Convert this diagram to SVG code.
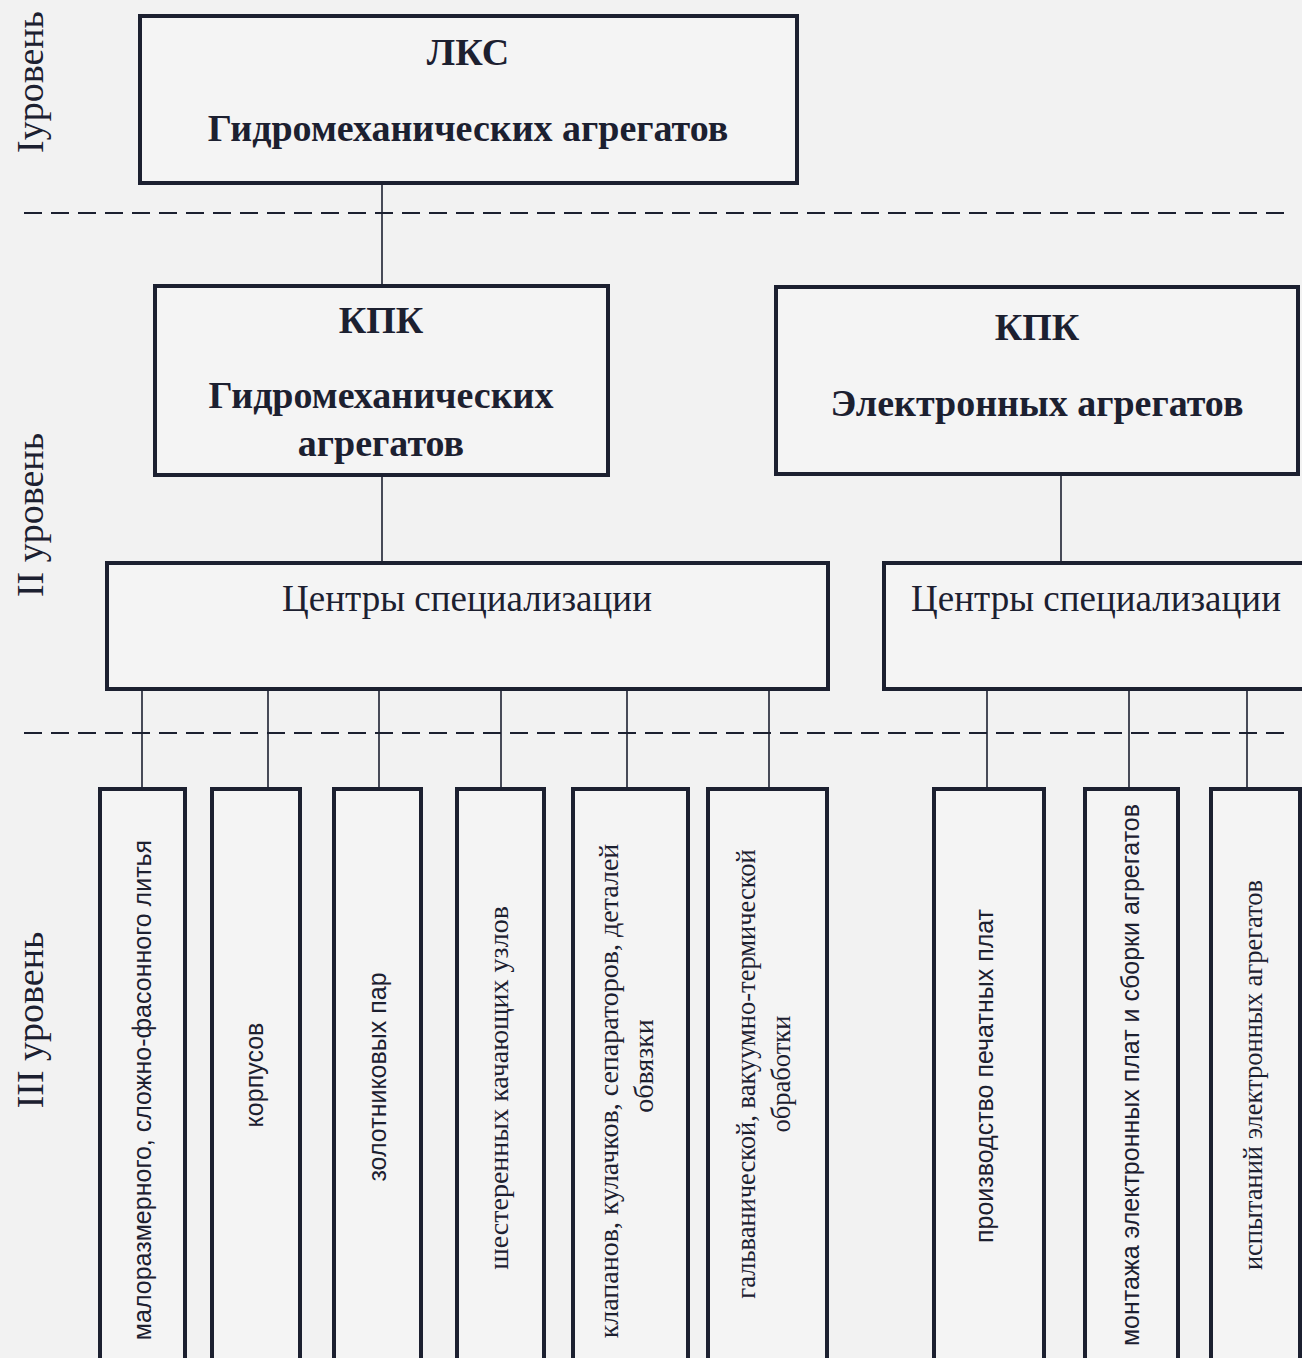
<svg xmlns="http://www.w3.org/2000/svg" width="1302" height="1358" viewBox="0 0 1302 1358">
<style>
.bg{fill:#f2f2f2}
.box{fill:#f4f4f4;stroke:#1c2030;stroke-width:4}
.con{stroke:#1c2030;stroke-width:1.6;fill:none}
.dash{stroke:#1c2030;stroke-width:2;stroke-dasharray:18 9;fill:none}
.tb{font-family:"Liberation Serif","Times New Roman",serif;font-weight:bold;font-size:38px;fill:#1c2030;text-anchor:middle}
.tr{font-family:"Liberation Serif","Times New Roman",serif;font-size:37px;fill:#1c2030;text-anchor:middle}
.lv{font-family:"Liberation Serif","Times New Roman",serif;font-size:38px;fill:#1c2030;text-anchor:middle}
.vs{font-family:"Liberation Sans",Arial,sans-serif;font-size:25px;fill:#1c2030;text-anchor:middle}
.vr{font-family:"Liberation Serif","Times New Roman",serif;font-size:28px;fill:#1c2030;text-anchor:middle}
.vr2{font-family:"Liberation Serif","Times New Roman",serif;font-size:26.5px;fill:#1c2030;text-anchor:middle}
</style>
<rect class="bg" x="0" y="0" width="1302" height="1358"/>
<g id="levels">
<text class="lv" transform="translate(43,82) rotate(-90)">Iуровень</text>
<text class="lv" transform="translate(43,515) rotate(-90)">II уровень</text>
<text class="lv" transform="translate(43,1020) rotate(-90)">III уровень</text>
</g>
<g id="connectors">
<line class="dash" x1="24" y1="213" x2="1292" y2="213"/>
<line class="dash" x1="24" y1="733" x2="1292" y2="733"/>
<line class="con" x1="382" y1="183" x2="382" y2="285"/>
<line class="con" x1="382" y1="475" x2="382" y2="563"/>
<line class="con" x1="1061" y1="474" x2="1061" y2="563"/>
<line class="con" x1="142" y1="689" x2="142" y2="789"/>
<line class="con" x1="268" y1="689" x2="268" y2="789"/>
<line class="con" x1="379" y1="689" x2="379" y2="789"/>
<line class="con" x1="501" y1="689" x2="501" y2="789"/>
<line class="con" x1="627" y1="689" x2="627" y2="789"/>
<line class="con" x1="769" y1="689" x2="769" y2="789"/>
<line class="con" x1="987" y1="689" x2="987" y2="789"/>
<line class="con" x1="1129" y1="689" x2="1129" y2="789"/>
<line class="con" x1="1247" y1="689" x2="1247" y2="789"/>
</g>
<g id="lks">
<rect class="box" x="140" y="16" width="657" height="167"/>
<text class="tb" x="468" y="65">ЛКС</text>
<text class="tb" x="468" y="141">Гидромеханических агрегатов</text>
</g>
<g id="kpk-hydro">
<rect class="box" x="155" y="286" width="453" height="189"/>
<text class="tb" x="381" y="333">КПК</text>
<text class="tb" x="381" y="408">Гидромеханических</text>
<text class="tb" x="381" y="456">агрегатов</text>
</g>
<g id="kpk-electro">
<rect class="box" x="776" y="287" width="522" height="187"/>
<text class="tb" x="1037" y="340">КПК</text>
<text class="tb" x="1037" y="416">Электронных агрегатов</text>
</g>
<g id="centers-hydro">
<rect class="box" x="107" y="563" width="721" height="126"/>
<text class="tr" x="467" y="611">Центры специализации</text>
</g>
<g id="centers-electro">
<rect class="box" x="884" y="563" width="430" height="126"/>
<text class="tr" x="1096" y="611">Центры специализации</text>
</g>
<g id="c1">
<rect class="box" x="100" y="789" width="85" height="590"/>
<text class="vs" transform="translate(151,1090) rotate(-90)">малоразмерного, сложно-фасонного литья</text>
</g>
<g id="c2">
<rect class="box" x="212" y="789" width="88" height="590"/>
<text class="vs" transform="translate(263,1075) rotate(-90)">корпусов</text>
</g>
<g id="c3">
<rect class="box" x="334" y="789" width="87" height="590"/>
<text class="vs" transform="translate(386,1077) rotate(-90)">золотниковых пар</text>
</g>
<g id="c4">
<rect class="box" x="457" y="789" width="87" height="590"/>
<text class="vr" transform="translate(508,1088) rotate(-90)">шестеренных качающих узлов</text>
</g>
<g id="c5">
<rect class="box" x="573" y="789" width="115" height="590"/>
<text class="vr" transform="translate(618,1091) rotate(-90)">клапанов, кулачков, сепараторов, деталей</text>
<text class="vr" transform="translate(653,1066) rotate(-90)">обвязки</text>
</g>
<g id="c6">
<rect class="box" x="708" y="789" width="119" height="590"/>
<text class="vr2" transform="translate(755,1074) rotate(-90)">гальванической, вакуумно-термической</text>
<text class="vr2" transform="translate(790,1074) rotate(-90)">обработки</text>
</g>
<g id="c7">
<rect class="box" x="934" y="789" width="110" height="590"/>
<text class="vs" transform="translate(993,1076) rotate(-90)">производство печатных плат</text>
</g>
<g id="c8">
<rect class="box" x="1085" y="789" width="93" height="590"/>
<text class="vs" transform="translate(1139,1075) rotate(-90)">монтажа электронных плат и сборки агрегатов</text>
</g>
<g id="c9">
<rect class="box" x="1211" y="789" width="89" height="590"/>
<text class="vr2" transform="translate(1262,1075) rotate(-90)">испытаний электронных агрегатов</text>
</g>
</svg>
